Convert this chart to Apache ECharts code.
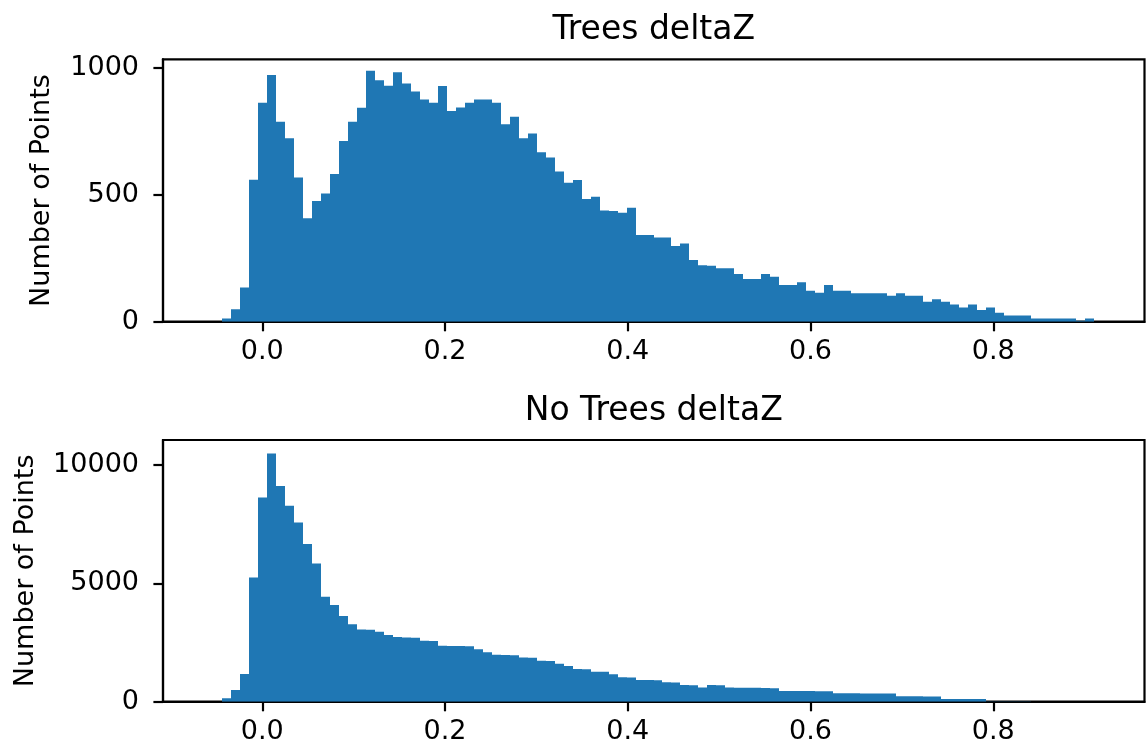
<!DOCTYPE html>
<html><head><meta charset="utf-8">
<script src="https://cdn.jsdelivr.net/npm/echarts@6/dist/echarts.min.js"></script>
<style>html,body{margin:0;padding:0;background:#fff}#c{width:1146px;height:746px}</style>
</head><body><div id="c"></div>
<script>
// Histogram bins (shared by both panels)
const binStart = -0.04443;
const binWidth = 0.009845;

const treesCounts = [
  13,49,135,559,862,971,787,722,568,407,
  475,505,581,711,787,842,988,951,929,982,
  938,906,875,862,928,829,843,862,875,875,
  862,777,807,722,741,667,646,591,547,558,
  483,492,438,436,429,449,341,341,331,331,
  298,308,243,222,220,210,210,188,168,168,
  188,177,144,144,155,122,114,144,122,122,
  112,112,112,112,102,112,102,102,79,88,
  79,68,56,68,46,56,35,24,24,24,
  13,13,13,13,13,4,13
];
const noTreesCounts = [
  141,493,1169,5252,8631,10490,9110,8279,7575,6660,
  5843,4435,4083,3619,3267,3055,3040,2957,2816,2730,
  2710,2700,2570,2560,2360,2350,2350,2340,2211,2084,
  1980,1970,1960,1865,1855,1725,1715,1605,1507,1385,
  1375,1270,1265,1155,1030,1025,920,915,910,820,
  815,705,700,595,705,700,595,590,590,585,
  580,565,455,452,450,448,446,445,355,353,
  352,350,350,348,345,228,226,225,224,222,
  115,114,113,112,110,12,8,6,5,4,
  3,3,2,2,1,1,1
];
const xTicks = [0, 0.2, 0.4, 0.6, 0.8];
const treesYTicks = [0, 500, 1000];
const noTreesYTicks = [0, 5000, 10000];
const panelTitles = ['Trees deltaZ', 'No Trees deltaZ'];
const yAxisName = 'Number of Points';

const FONT = 'DejaVu Sans';
const BLUE = '#1f77b4';

function toBins(counts) {
  return counts.map((c, i) => [binStart + i * binWidth, binStart + (i + 1) * binWidth, c]);
}
function renderBar(params, api) {
  const p0 = api.coord([api.value(0), api.value(2)]);
  const p1 = api.coord([api.value(1), 0]);
  // snap horizontal edges to whole pixels so neighbouring bins meet without seams
  const xa = Math.round(p0[0]), xb = Math.round(p1[0]);
  return {
    type: 'rect',
    shape: { x: xa, y: p0[1], width: xb - xa, height: p1[1] - p0[1] },
    style: { fill: BLUE }
  };
}

const grids = [
  { left: 163, top: 59.3, width: 981.5, height: 262.4 },
  { left: 163, top: 440, width: 981.5, height: 261.7 }
];
const yMaxes = [1033, 11056];
const yTickSets = [treesYTicks, noTreesYTicks];
const nameGaps = [121, 137];
const titleYs = [30.3, 411];

const axisLineStyle = { color: '#000', width: 2.2 };
const labelStyle = { fontSize: 27, fontFamily: FONT, color: '#000', lineHeight: 27 };

const option = {
  backgroundColor: '#fff',
  animation: false,
  grid: grids.map(g => Object.assign({ show: true, borderColor: '#000', borderWidth: 2.2, backgroundColor: 'transparent', containLabel: false, outerBoundsMode: 'none' }, g)),
  xAxis: grids.map((g, i) => ({
    gridIndex: i, type: 'value', min: -0.1087, max: 0.9655,
    axisLine: { show: true, onZero: false, lineStyle: axisLineStyle },
    axisTick: { show: true, length: 9.6, lineStyle: axisLineStyle, customValues: xTicks },
    axisLabel: Object.assign({ customValues: xTicks, margin: 17, formatter: v => v.toFixed(1) }, labelStyle),
    splitLine: { show: false }
  })),
  yAxis: grids.map((g, i) => ({
    gridIndex: i, type: 'value', min: 0, max: yMaxes[i],
    axisLine: { show: true, onZero: false, lineStyle: axisLineStyle },
    axisTick: { show: true, length: 9.6, lineStyle: axisLineStyle, customValues: yTickSets[i] },
    axisLabel: Object.assign({ customValues: yTickSets[i], margin: 24, formatter: v => String(v) }, labelStyle),
    splitLine: { show: false },
    name: yAxisName, nameLocation: 'middle', nameRotate: 90, nameGap: nameGaps[i],
    nameTextStyle: Object.assign({ align: 'center', verticalAlign: 'middle' }, labelStyle)
  })),
  graphic: panelTitles.map((t, i) => ({
    type: 'text', x: 653.75, y: titleYs[i],
    style: { text: t, font: '33px "DejaVu Sans"', fill: '#000', align: 'center', verticalAlign: 'middle', textAlign: 'center', textVerticalAlign: 'middle' }
  })),
  series: [treesCounts, noTreesCounts].map((counts, i) => ({
    type: 'custom', xAxisIndex: i, yAxisIndex: i,
    data: toBins(counts), encode: { x: [0, 1], y: 2 },
    renderItem: renderBar, clip: true, silent: true
  }))
};

const chart = echarts.init(document.getElementById('c'), null, { renderer: 'canvas' });
chart.setOption(option);
</script>
</body></html>
